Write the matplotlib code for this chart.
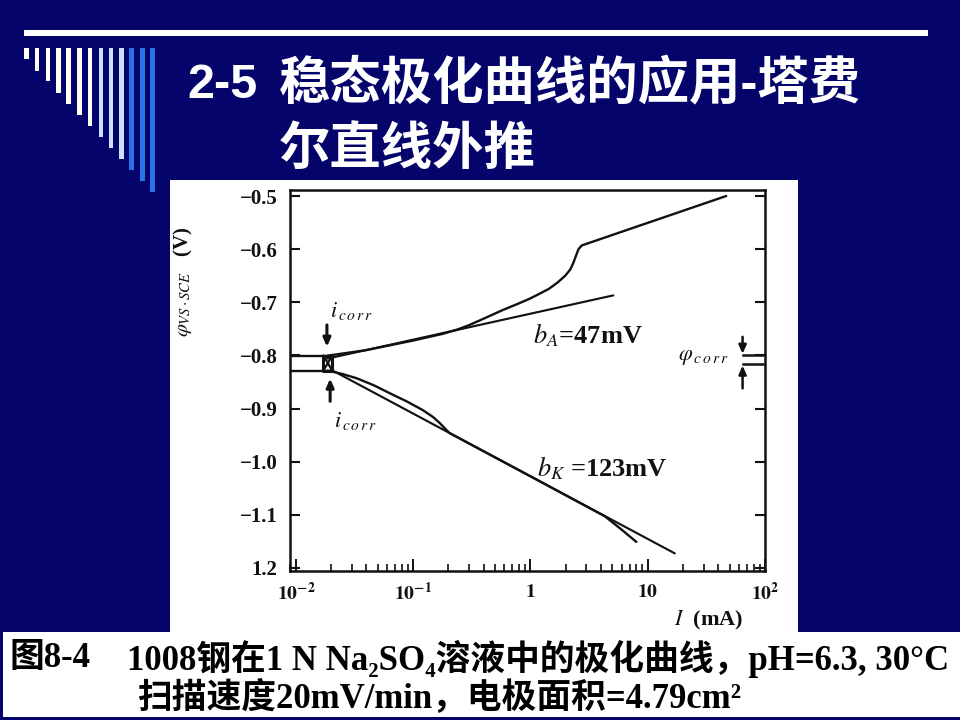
import matplotlib
matplotlib.use("Agg")
import matplotlib.pyplot as plt
from matplotlib.patches import Rectangle

plt.rcParams['mathtext.fontset'] = 'stix'

# ---------------- data ----------------
# anodic measured polarisation curve  (I in mA, potential in V vs SCE)
anodic_I = [0.0186, 0.040, 0.10, 0.126, 0.178, 0.24, 0.30, 0.417, 0.575, 0.76, 0.97, 1.17,
            1.43, 1.70, 1.98, 2.19, 2.33, 2.45, 2.57, 2.74, 46.7]
anodic_E = [-0.8005, -0.790, -0.772, -0.767, -0.7595, -0.751, -0.743, -0.729, -0.715, -0.704,
            -0.694, -0.685, -0.675, -0.663, -0.650, -0.638, -0.625, -0.612, -0.600, -0.593,
            -0.500]
# anodic Tafel straight line
anodic_tafel_I = [0.0186, 5.09]
anodic_tafel_E = [-0.806, -0.687]
# cathodic measured curve
cathodic_I = [0.0186, 0.025, 0.033, 0.046, 0.063, 0.089, 0.121, 0.148, 0.168, 0.186, 0.204,
              1.0, 4.33, 6.0, 8.0]
cathodic_E = [-0.8285, -0.835, -0.843, -0.856, -0.871, -0.887, -0.903, -0.916, -0.927, -0.937,
              -0.946, -1.0275, -1.103, -1.128, -1.151]
# cathodic Tafel straight line
cathodic_tafel_I = [0.020, 17.0]
cathodic_tafel_E = [-0.827, -1.1725]
# corrosion point
i_corr = 0.0186
phi_upper = -0.8005
phi_lower = -0.8285
box_I = [0.0172, 0.0204]

x_ticks = [1e-2, 1e-1, 1, 10, 100]
x_tick_labels = [r'$\mathbf{10^{-2}}$', r'$\mathbf{10^{-1}}$', r'$\mathbf{1}$', r'$\mathbf{10}$', r'$\mathbf{10^{2}}$']
y_ticks = [-0.5, -0.6, -0.7, -0.8, -0.9, -1.0, -1.1, -1.2]
y_tick_labels = ['−0.5', '−0.6', '−0.7', '−0.8', '−0.9', '−1.0', '−1.1', '1.2']

title_num = '2-5'
title_line1 = '稳态极化曲线的应用-塔费'
title_line2 = '尔直线外推'
caption_fig = '图8-4'
caption_line1 = '1008钢在1 N Na₂SO₄溶液中的极化曲线，pH=6.3, 30°C'
caption_line2 = '扫描速度20mV/min，电极面积=4.79cm²'

# ---------------- figure / slide ----------------
W, H = 960, 720
NAVY = '#04046a'
fig = plt.figure(figsize=(W / 100, H / 100), dpi=100)
fig.patch.set_facecolor(NAVY)


def rect(x0, y0, x1, y1, color, z=-1):
    fig.add_artist(Rectangle((x0 / W, 1 - y1 / H), (x1 - x0) / W, (y1 - y0) / H,
                             transform=fig.transFigure, facecolor=color,
                             edgecolor='none', zorder=z))


# top white rule
rect(24, 30, 928, 36, 'white')
# decorative stripes
stripes = [(24, 29, 59), (35, 39, 71), (46, 50, 81), (56, 61, 93), (66, 71, 104),
           (77, 82, 115), (88, 92, 126), (99, 103, 137), (109, 113, 148),
           (119, 124, 159), (129, 134, 170), (140, 145, 181), (150, 155, 192)]
stripe_cols = ['#fffff2'] * 7 + ['#cfe0ff'] * 3 + ['#2a72e6'] * 3
for (a, b, bot), c in zip(stripes, stripe_cols):
    rect(a, 48, b, bot, c)

# white panels (scanned figure + caption)
rect(170, 180, 798, 640, 'white')
rect(3, 632, 960, 717, 'white')

# title
tfam = ['Liberation Sans', 'Noto Sans CJK SC', 'DejaVu Sans']
fig.text(187 / W, 1 - 85 / H, title_num, color='white', fontsize=35, fontweight='bold',
         family=tfam, ha='left', va='center')
fig.text(279 / W, 1 - 84 / H, title_line1, color='white', fontsize=37, fontweight='bold',
         family=tfam, ha='left', va='center')
fig.text(279 / W, 1 - 150 / H, title_line2, color='white', fontsize=37, fontweight='bold',
         family=tfam, ha='left', va='center')

# caption
cfam = ['Liberation Serif', 'Noto Sans CJK SC', 'DejaVu Sans']
fig.text(10 / W, 1 - 659 / H, caption_fig, color='black', fontsize=25, fontweight='bold',
         family=cfam, ha='left', va='center')
fig.text(127 / W, 1 - 659 / H, caption_line1, color='black', fontsize=25, fontweight='bold',
         family=cfam, ha='left', va='center')
fig.text(137 / W, 1 - 699 / H, caption_line2, color='black', fontsize=25, fontweight='bold',
         family=cfam, ha='left', va='center')

# ---------------- axes ----------------
ax = fig.add_axes([290 / W, 1 - 571 / H, 475 / W, 381 / H])
ax.set_facecolor('white')
ax.set_xscale('log')
ax.set_xlim(10 ** -2.05, 10 ** 1.98)
ax.set_ylim(-1.2057, -0.4887)

LW = 1.7
K = '#111111'
ax.plot(anodic_I, anodic_E, color=K, lw=LW, solid_capstyle='round', solid_joinstyle='round')
ax.plot(anodic_tafel_I, anodic_tafel_E, color=K, lw=LW * 0.9, solid_capstyle='round')
ax.plot(cathodic_I, cathodic_E, color=K, lw=LW, solid_capstyle='round', solid_joinstyle='round')
ax.plot(cathodic_tafel_I, cathodic_tafel_E, color=K, lw=LW * 0.9, solid_capstyle='round')

# horizontal corrosion-potential lines from the left axis to i_corr
xl = ax.get_xlim()[0]
ax.plot([xl, box_I[1]], [phi_upper, phi_upper], color=K, lw=LW)
ax.plot([xl, box_I[1]], [phi_lower, phi_lower], color=K, lw=LW)
# small box at i_corr
ax.plot([box_I[0], box_I[1], box_I[1], box_I[0], box_I[0]],
        [phi_upper, phi_upper, phi_lower, phi_lower, phi_upper], color=K, lw=2.2)
ax.plot([box_I[0], box_I[1]], [phi_upper, phi_lower], color=K, lw=1.6)
ax.plot([box_I[0], box_I[1]], [phi_lower, phi_upper], color=K, lw=1.6)

arrow_kw = dict(arrowstyle='-|>,head_length=0.5,head_width=0.22', color=K, lw=2.2,
                shrinkA=0, shrinkB=0)
ax.annotate('', xy=(0.0184, -0.7837), xytext=(0.0184, -0.7427), arrowprops=arrow_kw)
ax.annotate('', xy=(0.0196, -0.8435), xytext=(0.0196, -0.8864), arrowprops=arrow_kw)

lab_kw = dict(color=K, fontsize=16, ha='center', va='center')
ax.text(0.030, -0.7165, r'$\mathit{i}_{\,c\,o\,r\,r}$', **lab_kw)
ax.text(0.0325, -0.9237, r'$\mathit{i}_{\,c\,o\,r\,r}$', **lab_kw)
ax.text(30, -0.8024, r'$\varphi_{\,c\,o\,r\,r}$', **lab_kw)

# phi_corr bracket on the right
bx = 64.4
xr = ax.get_xlim()[1]
ax.plot([bx, xr], [-0.799, -0.799], color=K, lw=1.8)
ax.plot([bx, xr], [-0.817, -0.817], color=K, lw=1.8)
ax.annotate('', xy=(bx, -0.797), xytext=(bx, -0.765), arrowprops=dict(arrow_kw, lw=1.8))
ax.annotate('', xy=(bx, -0.819), xytext=(bx, -0.862), arrowprops=dict(arrow_kw, lw=1.8))

sfam = ['Liberation Serif', 'DejaVu Serif']
ax.text(1.05, -0.7613, r'$\mathit{b}_{A}$=47mV', fontsize=19, fontweight='bold',
        family=sfam, ha='left', va='center', color=K)
ax.text(1.13, -1.0115, r'$\mathit{b}_{K}$ =123mV', fontsize=19, fontweight='bold',
        family=sfam, ha='left', va='center', color=K)

# ticks
ax.set_xticks(x_ticks)
ax.set_xticklabels(x_tick_labels, fontsize=14)
ax.set_yticks(y_ticks)
ax.set_yticklabels(y_tick_labels, fontsize=15, fontweight='bold', family=sfam)
ax.tick_params(axis='both', which='both', direction='in', colors=K)
ax.tick_params(axis='y', which='major', left=True, right=True, length=7, width=1.5, pad=9)
ax.tick_params(axis='x', which='major', bottom=True, top=False, length=9, width=1.4, pad=8)
ax.tick_params(axis='x', which='minor', bottom=True, top=False, length=5, width=1.2)
ax.tick_params(axis='y', which='minor', left=False, right=False)
for s in ax.spines.values():
    s.set_linewidth(1.8)
    s.set_color(K)

ax.text(-0.225, 0.758, r'$\varphi_{VS\cdot SCE}$   (V)', transform=ax.transAxes,
        rotation=90, fontsize=15, fontweight='bold', family=sfam,
        ha='center', va='center', color=K)
ax.text(0.882, -0.131, r'$\mathit{I}$  (mA)', transform=ax.transAxes, fontsize=16,
        fontweight='bold', family=sfam, ha='center', va='center', color=K)

fig.savefig('out.png', dpi=100, facecolor=fig.get_facecolor())
